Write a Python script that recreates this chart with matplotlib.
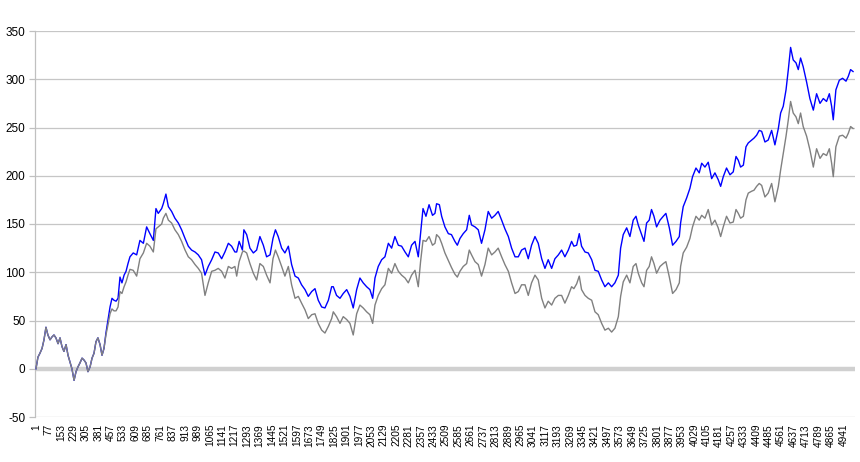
import matplotlib
matplotlib.use("Agg")
import matplotlib.pyplot as plt

plt.rcParams['font.family'] = ['Liberation Sans', 'DejaVu Sans']

# category index (1..5000) of each read-off point
idx = [1, 13, 25, 38, 50, 62, 74, 87, 99, 111, 123, 136, 148, 160, 172, 185, 197, 209, 221, 234,
       246, 258, 270, 283, 295, 307, 319, 332, 344, 356, 368, 380, 393, 405, 417, 429, 442, 454, 466, 478,
       491, 503, 515, 527, 540, 552, 564, 576,
       596, 617, 637, 658, 678, 698, 719, 735, 749, 770, 780, 796, 811, 831, 851, 872, 892, 913, 933, 953,
       974, 994, 1014, 1035, 1055, 1076, 1096, 1116, 1137, 1157, 1178, 1198, 1218,
       1229, 1244, 1264, 1273, 1290, 1310, 1331, 1351, 1371, 1392, 1412, 1433, 1451, 1466, 1483, 1504,
       1524, 1545, 1565, 1586, 1606, 1626, 1647, 1667, 1688, 1708, 1728, 1749, 1769, 1790, 1810,
       1820, 1840, 1861, 1881, 1902, 1922, 1942, 1963, 1983, 2003, 2024, 2044, 2061, 2075, 2095, 2116,
       2136, 2157, 2177, 2197, 2218, 2238, 2259, 2279, 2299, 2320, 2340, 2354, 2369, 2387, 2406, 2427, 2442,
       2452, 2469, 2483, 2503, 2524, 2543, 2564, 2579, 2595, 2615, 2636, 2652, 2666, 2687, 2707, 2727,
       2748, 2768, 2789, 2809, 2829, 2850, 2870, 2891, 2911, 2932, 2952, 2972, 2993, 3013, 3033, 3054,
       3074, 3095, 3115, 3135, 3156, 3176, 3197, 3217, 3237, 3258, 3278, 3292, 3309, 3325, 3339, 3360,
       3380, 3401, 3421, 3441, 3462, 3482, 3503, 3523, 3543, 3564, 3578, 3594, 3615, 3635, 3655,
       3672, 3686, 3707, 3721, 3737, 3753, 3767, 3782, 3798, 3819, 3839, 3855, 3876, 3896, 3917, 3937,
       3945, 3961, 3982, 4002, 4018, 4039, 4059, 4074, 4094, 4114, 4135, 4155, 4175, 4190, 4206, 4226,
       4247, 4267,
       4284, 4298, 4312, 4329, 4345, 4359, 4380, 4394, 4410, 4426, 4441, 4461, 4481, 4502, 4522, 4543,
       4557, 4573, 4590, 4604, 4618, 4634, 4651, 4665, 4679, 4695, 4716, 4736, 4757, 4777, 4798, 4818,
       4838, 4855, 4869, 4879, 4895, 4916, 4936, 4957, 4971, 4985, 5000]

blue = [0, 12, 16, 21, 30, 43, 35, 30, 33, 35, 32, 26, 32, 23, 18, 25, 14, 7, 0, -12,
        -3, 2, 6, 11, 9, 6, -3, 2, 11, 16, 28, 32, 25, 14, 21, 37, 51, 64, 73, 71,
        70, 73, 95, 89, 97, 101, 109, 116,
        120, 118, 133, 130, 147, 140, 133, 166, 161, 166, 171, 181, 168, 163, 156, 151, 144, 135, 127, 123,
        121, 118, 113, 97, 106, 113, 121, 120, 114, 121, 130, 127, 121,
        121, 132, 123, 144, 139, 125, 120, 123, 137, 128, 116, 118, 135, 144, 137, 125,
        120, 127, 108, 96, 94, 87, 82, 75, 80, 83, 71, 64, 63, 71, 85,
        85, 76, 73, 78, 82, 75, 63, 82, 94, 89, 85, 82, 73, 94, 106, 113,
        116, 130, 125, 137, 128, 127, 121, 116, 128, 132, 116, 140, 166, 158, 170, 159, 161,
        171, 170, 158, 147, 140, 139, 132, 128, 135, 140, 144, 159, 149, 147, 144, 130,
        144, 163, 156, 159, 163, 154, 145, 137, 125, 116, 116, 123, 125, 114, 128, 137,
        130, 114, 104, 113, 104, 114, 118, 123, 116, 123, 132, 127, 128, 140, 127, 121,
        120, 113, 102, 101, 92, 85, 89, 85, 89, 97, 125, 139, 146, 137, 154,
        158, 149, 139, 132, 151, 154, 165, 158, 147, 154, 158, 161, 146, 128, 132, 137,
        151, 168, 177, 187, 199, 208, 203, 213, 209, 214, 197, 203, 196, 189, 199, 208,
        201, 204,
        220, 216, 209, 211, 230, 234, 237, 239, 242, 247, 246, 235, 237, 247, 232, 249,
        265, 272, 289, 310, 333, 320, 317, 310, 322, 313, 297, 280, 268, 285, 275, 280,
        277, 285, 272, 258, 289, 299, 301, 298, 303, 310, 308]

gray = [0, 12, 16, 21, 30, 43, 35, 30, 33, 35, 32, 26, 32, 23, 18, 25, 14, 7, 0, -12,
        -3, 2, 6, 11, 9, 6, -3, 2, 11, 16, 28, 32, 25, 14, 21, 35, 46, 57, 62, 60,
        60, 64, 80, 78, 85, 90, 97, 103,
        102, 96, 114, 120, 130, 127, 121, 145, 147, 150, 156, 161, 154, 151, 144, 139, 132, 123, 116, 113,
        108, 104, 99, 76, 89, 101, 102, 104, 101, 94, 106, 104, 106,
        96, 111, 121, 122, 120, 109, 99, 92, 109, 106, 97, 89, 114, 123, 116, 106,
        96, 106, 87, 73, 75, 68, 61, 52, 56, 57, 47, 40, 37, 44, 52,
        59, 54, 47, 54, 51, 47, 35, 57, 66, 63, 59, 56, 47, 66, 76, 83,
        87, 104, 99, 109, 101, 97, 94, 89, 97, 102, 85, 111, 133, 132, 137, 128, 130,
        139, 136, 130, 120, 112, 105, 98, 95, 101, 106, 109, 123, 118, 111, 108, 96,
        108, 125, 118, 121, 125, 116, 108, 101, 89, 78, 80, 87, 87, 76, 89, 97,
        92, 73, 63, 70, 66, 73, 76, 76, 68, 76, 85, 83, 88, 96, 82, 76,
        73, 71, 59, 56, 47, 40, 42, 38, 42, 54, 75, 90, 97, 89, 106,
        109, 99, 89, 85, 102, 106, 116, 109, 99, 106, 109, 111, 95, 78, 82, 89,
        106, 120, 126, 135, 147, 158, 154, 159, 156, 165, 149, 154, 146, 137, 147, 158,
        151, 152,
        165, 161, 156, 158, 175, 182, 184, 185, 189, 192, 190, 178, 182, 192, 173, 189,
        206, 223, 241, 258, 277, 265, 261, 254, 265, 251, 241, 227, 209, 228, 218, 223,
        221, 228, 213, 199, 230, 241, 242, 239, 244, 251, 249]

x_tick_labels = [str(v) for v in range(1, 4942, 76)]
y_ticks = [-50, 0, 50, 100, 150, 200, 250, 300, 350]

fig = plt.figure(figsize=(8.6, 4.62), dpi=100)
ax = fig.add_axes([35 / 860, 1 - 417 / 462, 820 / 860, 386 / 462])

for yv in y_ticks:
    if yv != 0:
        ax.axhline(yv, color='#c6c6c6', lw=0.9, zorder=0)
ax.axhline(0, color='#d0d0d0', lw=3.2, zorder=1)

ax.plot(idx, blue, color='#0000ff', lw=1.0, zorder=3)
ax.plot(idx, gray, color='#808080', lw=1.0, zorder=4)

ax.set_xlim(-5, 5012)
ax.set_ylim(-50, 350)
ax.set_yticks(y_ticks)
ax.set_yticklabels([str(v) for v in y_ticks], fontsize=8.5, color='#000000')
ax.set_xticks([int(s) for s in x_tick_labels])
ax.set_xticklabels(x_tick_labels, rotation=90, fontsize=7.3, color='#000000')
ax.tick_params(axis='x', length=0, pad=5)
ax.tick_params(axis='y', length=4, color='#c0c0c0', width=0.9, pad=3)

for s in ['top', 'right', 'bottom']:
    ax.spines[s].set_visible(False)
ax.spines['left'].set_color('#c0c0c0')
ax.spines['left'].set_linewidth(0.9)

fig.savefig('out.png', dpi=100, facecolor='white')
